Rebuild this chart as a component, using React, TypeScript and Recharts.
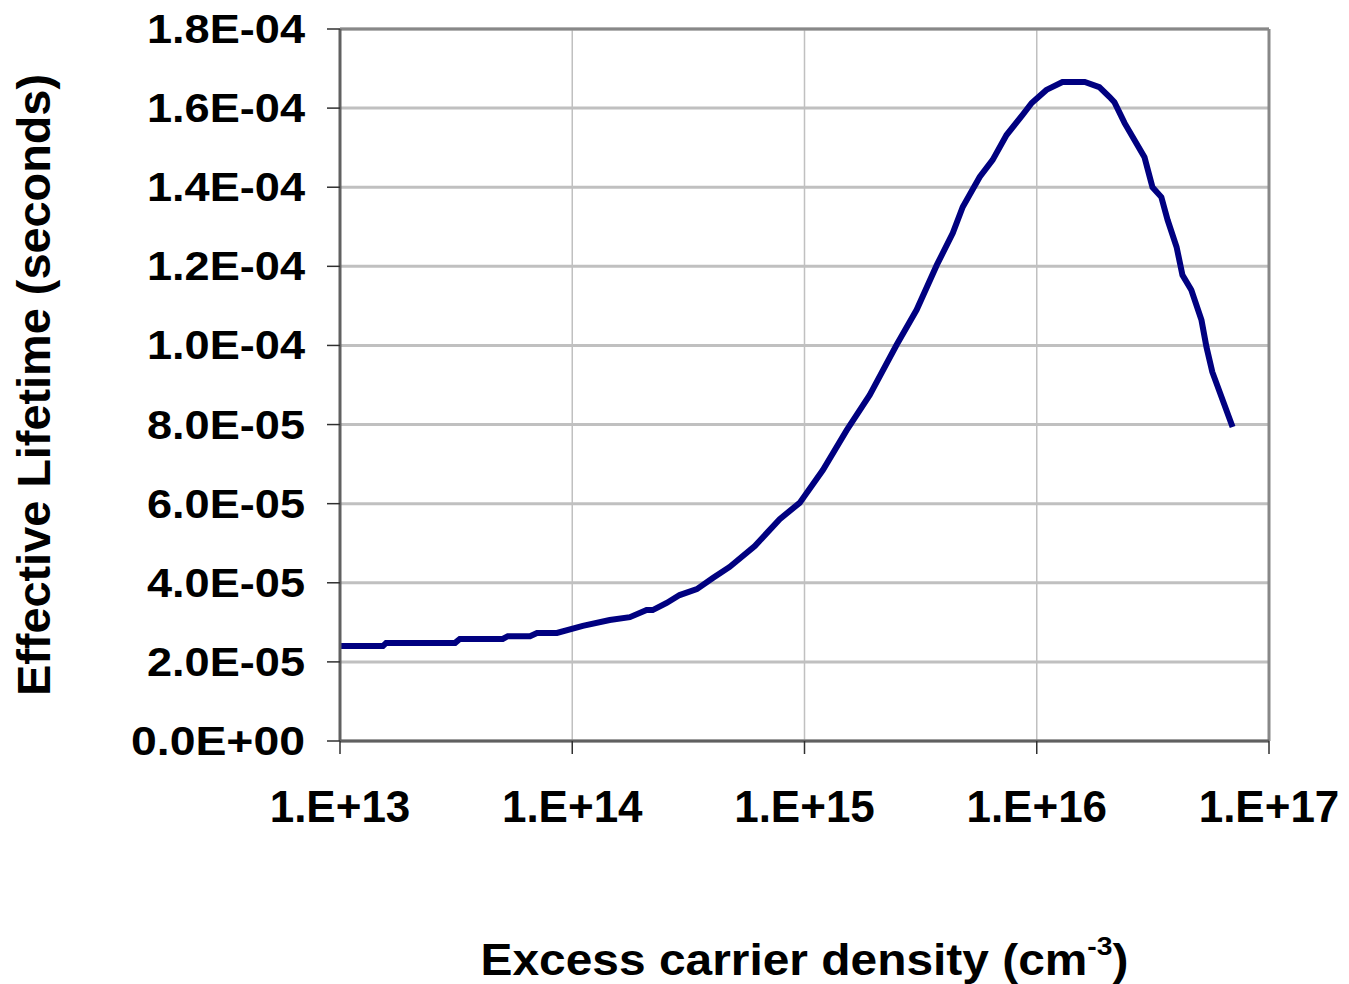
import React from 'react';
import { LineChart, Line, XAxis, YAxis, CartesianGrid, ReferenceLine } from 'recharts';

// excess carrier density (cm^-3)
const density = [
  1.0e13, 1.53e13, 1.58e13, 3.13e13, 3.28e13, 5.02e13, 5.28e13, 6.58e13, 7.05e13, 8.59e13,
  1.11e14, 1.45e14, 1.77e14, 2.09e14, 2.22e14, 2.55e14, 2.9e14, 3.44e14, 4.03e14, 4.76e14,
  6.11e14, 7.82e14, 9.53e14, 1.2e15, 1.52e15, 1.91e15, 2.49e15, 3.04e15, 3.71e15, 4.35e15,
  4.8e15, 5.68e15, 6.46e15, 7.41e15, 8.69e15, 9.51e15, 1.1e16, 1.29e16, 1.61e16, 1.86e16,
  2.06e16, 2.16e16, 2.39e16, 2.91e16, 3.15e16, 3.44e16, 3.66e16, 4.0e16, 4.24e16, 4.63e16,
  5.12e16, 5.38e16, 5.7e16, 6.97e16,
];

// effective lifetime (s)
const lifetime = [
  2.4e-5, 2.4e-5, 2.48e-5, 2.48e-5, 2.58e-5, 2.58e-5, 2.65e-5, 2.65e-5, 2.73e-5, 2.73e-5,
  2.91e-5, 3.06e-5, 3.13e-5, 3.31e-5, 3.31e-5, 3.49e-5, 3.69e-5, 3.84e-5, 4.12e-5, 4.4e-5,
  4.93e-5, 5.61e-5, 6.02e-5, 6.85e-5, 7.86e-5, 8.75e-5, 1.001e-4, 1.09e-4, 1.203e-4, 1.284e-4,
  1.35e-4, 1.426e-4, 1.469e-4, 1.532e-4, 1.583e-4, 1.613e-4, 1.646e-4, 1.666e-4, 1.666e-4, 1.653e-4,
  1.628e-4, 1.615e-4, 1.562e-4, 1.476e-4, 1.4e-4, 1.375e-4, 1.317e-4, 1.249e-4, 1.178e-4, 1.14e-4,
  1.064e-4, 9.96e-5, 9.33e-5, 7.94e-5,
];

const xTicks = [1e13, 1e14, 1e15, 1e16, 1e17];
const yTicks = [0, 2e-5, 4e-5, 6e-5, 8e-5, 1e-4, 1.2e-4, 1.4e-4, 1.6e-4, 1.8e-4];

const data = density.map((n, i) => ({ n, tau: lifetime[i] }));

const FONT = '"Liberation Sans", Arial, sans-serif';

const fmtY = (v: number) => {
  const [m, e] = v.toExponential(1).split('e');
  return `${m}E${e[0]}${e.slice(1).padStart(2, '0')}`;
};

const fmtX = (v: number) => `1.E+${Math.round(Math.log10(v))}`;

const YTick = ({ x, y, payload }: any) => {
  const label = fmtY(payload.value);
  return (
    <text x={x - 22} y={y + 14} textAnchor="end" fontFamily={FONT} fontWeight="bold" fontSize={41}
      fill="#000" textLength={label.includes('+') ? 174 : 158} lengthAdjust="spacingAndGlyphs">
      {label}
    </text>
  );
};

const XTick = ({ x, y, payload }: any) => (
  <text x={x} y={y + 68} textAnchor="middle" fontFamily={FONT} fontWeight="bold" fontSize={44} fill="#000">
    {fmtX(payload.value)}
  </text>
);

const YTitle = ({ viewBox }: any) => {
  const cy = viewBox.y + viewBox.height / 2;
  return (
    <text transform={`translate(50, ${cy}) rotate(-90)`} textAnchor="middle" fontFamily={FONT}
      fontWeight="bold" fontSize={46} fill="#000" textLength={622} lengthAdjust="spacingAndGlyphs">
      Effective Lifetime (seconds)
    </text>
  );
};

const XTitle = ({ viewBox }: any) => {
  const cx = viewBox.x + viewBox.width / 2;
  return (
    <text x={cx} y={975} textAnchor="middle" fontFamily={FONT} fontWeight="bold" fontSize={44}
      fill="#000" textLength={648} lengthAdjust="spacingAndGlyphs">
      Excess carrier density (cm
      <tspan dy={-20} fontSize={26}>-3</tspan>
      <tspan dy={20}>)</tspan>
    </text>
  );
};

export default function App() {
  return (
    <div style={{ position: 'absolute', left: 0, top: 0, background: '#fff' }}>
      <LineChart width={1349} height={984} data={data} margin={{ top: 29, right: 80, left: 0, bottom: 0 }}>
        <CartesianGrid horizontal={false} stroke="#c0c0c0" strokeWidth={1.5} />
        <CartesianGrid vertical={false} stroke="#c0c0c0" strokeWidth={3} />
        <XAxis
          dataKey="n"
          type="number"
          scale="log"
          domain={[1e13, 1e17]}
          ticks={xTicks}
          allowDataOverflow
          height={243}
          tickSize={13}
          tickMargin={0}
          tick={<XTick />}
          axisLine={{ stroke: '#606060', strokeWidth: 3 }}
          tickLine={{ stroke: '#303030', strokeWidth: 1.5 }}
          label={{ content: <XTitle /> }}
        />
        <YAxis
          dataKey="tau"
          type="number"
          domain={[0, 1.8e-4]}
          ticks={yTicks}
          width={340}
          tickSize={13}
          tickMargin={0}
          tick={<YTick />}
          axisLine={{ stroke: '#606060', strokeWidth: 3 }}
          tickLine={{ stroke: '#303030', strokeWidth: 1.5 }}
          label={{ content: <YTitle /> }}
        />
        <ReferenceLine y={1.8e-4} stroke="#888" strokeWidth={3} />
        <ReferenceLine x={1e17} stroke="#888" strokeWidth={3} />
        <Line type="linear" dataKey="tau" stroke="#000080" strokeWidth={6} dot={false}
          activeDot={false} isAnimationActive={false} />
      </LineChart>
    </div>
  );
}
